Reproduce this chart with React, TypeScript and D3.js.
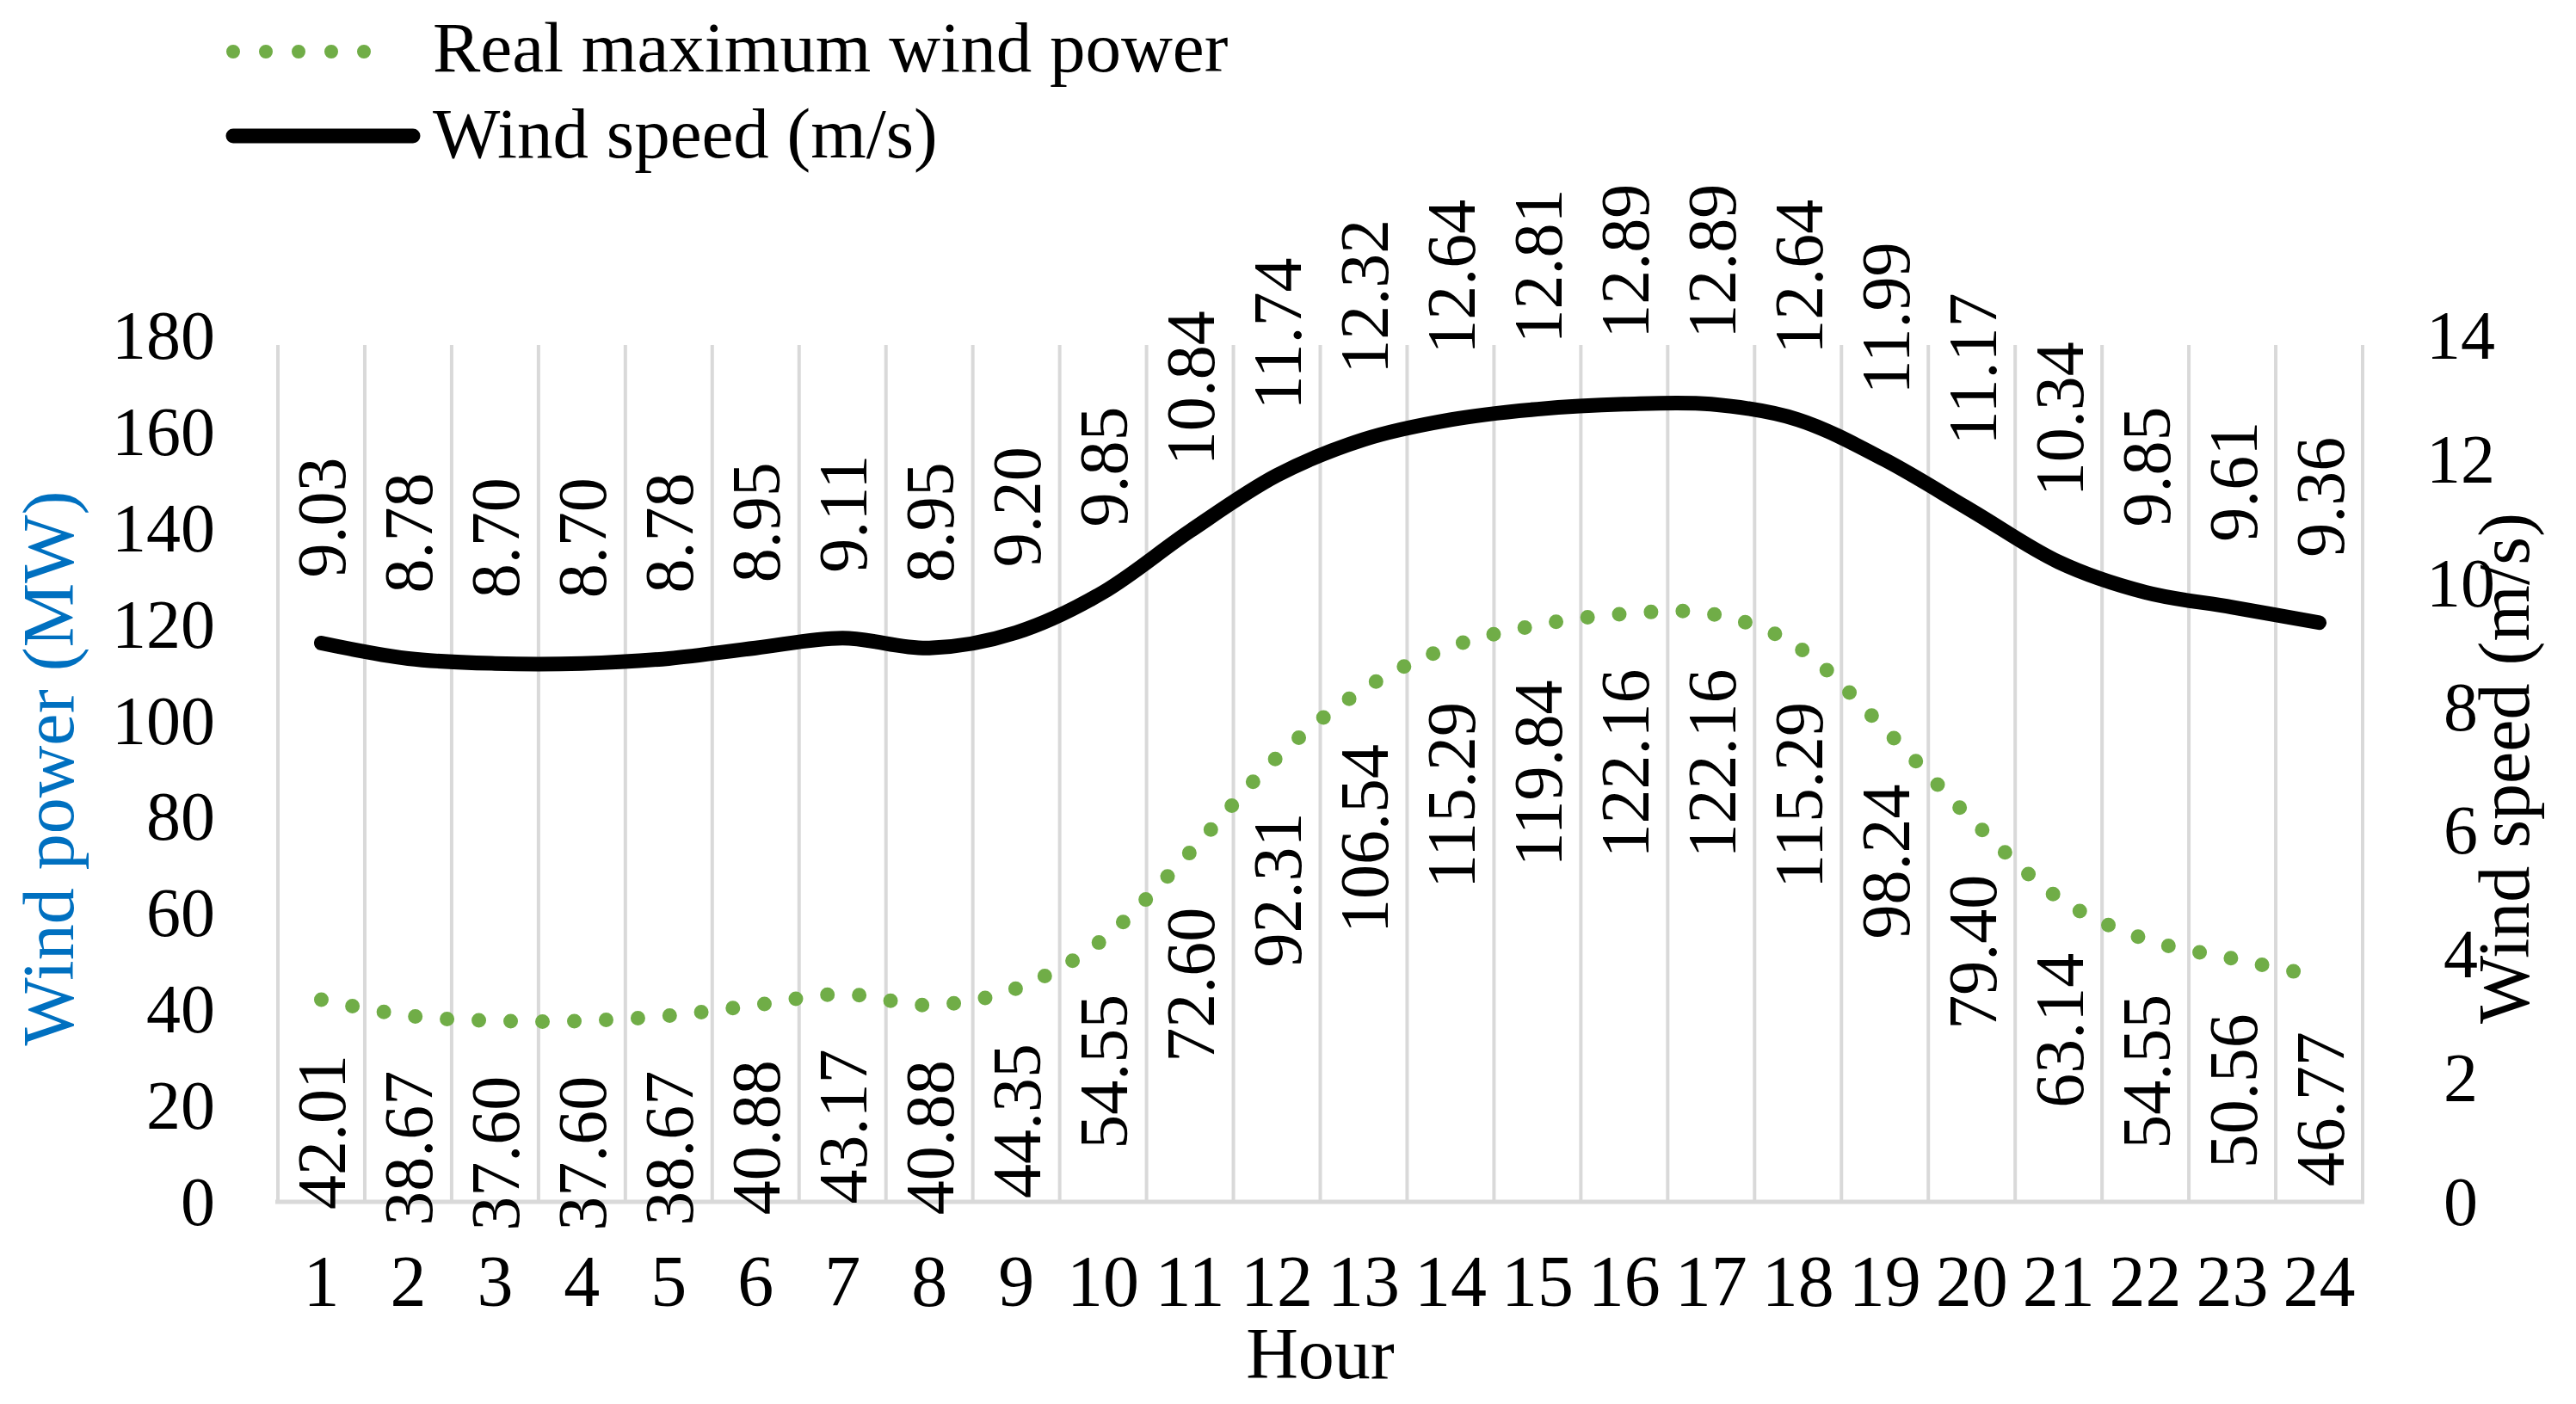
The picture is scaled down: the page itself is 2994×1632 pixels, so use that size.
import React from "react";
import * as d3 from "d3";

const hours = ["1", "2", "3", "4", "5", "6", "7", "8", "9", "10", "11", "12", "13", "14", "15", "16", "17", "18", "19", "20", "21", "22", "23", "24"];
const windPower = [42.01, 38.67, 37.6, 37.6, 38.67, 40.88, 43.17, 40.88, 44.35, 54.55, 72.6, 92.31, 106.54, 115.29, 119.84, 122.16, 122.16, 115.29, 98.24, 79.4, 63.14, 54.55, 50.56, 46.77];
const windSpeed = [9.03, 8.78, 8.7, 8.7, 8.78, 8.95, 9.11, 8.95, 9.2, 9.85, 10.84, 11.74, 12.32, 12.64, 12.81, 12.89, 12.89, 12.64, 11.99, 11.17, 10.34, 9.85, 9.61, 9.36];
const powerTicks = [0, 20, 40, 60, 80, 100, 120, 140, 160, 180];
const speedTicks = [0, 2, 4, 6, 8, 10, 12, 14];

const FONT = "'Liberation Serif', 'Times New Roman', serif";

export default function App() {
  const W = 2994;
  const H = 1632;
  const left = 323;
  const right = 2746;
  const gridTop = 401;
  const yTop = 390;
  const bottom = 1397;

  const x = d3.scaleBand<string>().domain(hours).range([left, right]).padding(0);
  const xc = (h: string) => (x(h) as number) + x.bandwidth() / 2;
  const yP = d3.scaleLinear().domain([0, 180]).range([bottom, yTop]);
  const yS = d3.scaleLinear().domain([0, 14]).range([bottom, yTop]);

  const powerLine = d3
    .line<number>()
    .x((_, i) => xc(hours[i]))
    .y((d) => yP(d))
    .curve(d3.curveCardinal.tension(0));
  const speedLine = d3
    .line<number>()
    .x((_, i) => xc(hours[i]))
    .y((d) => yS(d))
    .curve(d3.curveCardinal.tension(0));

  const edges = [...hours.map((h) => x(h) as number), x.range()[1]];
  const green = "#70AD47";
  const grid = "#D9D9D9";

  return (
    <svg
      width={W}
      height={H}
      viewBox={`0 0 ${W} ${H}`}
      style={{ position: "absolute", left: 0, top: 0, display: "block", background: "#fff" }}
      fontFamily={FONT}
    >
      <rect x={0} y={0} width={W} height={H} fill="#fff" />

      {/* vertical gridlines */}
      {edges.map((ex, i) => (
        <line key={"g" + i} x1={ex} x2={ex} y1={gridTop} y2={bottom} stroke={grid} strokeWidth={4} />
      ))}
      {/* bottom axis */}
      <line x1={left - 3} x2={right + 2} y1={bottom} y2={bottom} stroke={grid} strokeWidth={5} />

      {/* series */}
      <path
        d={powerLine(windPower) || ""}
        fill="none"
        stroke={green}
        strokeWidth={17}
        strokeLinecap="round"
        strokeDasharray="0 37"
      />
      <path
        d={speedLine(windSpeed) || ""}
        fill="none"
        stroke="#000"
        strokeWidth={17}
        strokeLinecap="round"
        strokeLinejoin="round"
      />

      {/* data labels: wind speed (above) */}
      {windSpeed.map((v, i) => (
        <text
          key={"ls" + i}
          transform={`translate(${xc(hours[i]) + 28},${yS(v) - 76}) rotate(-90)`}
          fontSize={80}
          textAnchor="start"
          fill="#000"
        >
          {v.toFixed(2)}
        </text>
      ))}
      {/* data labels: wind power (below) */}
      {windPower.map((v, i) => (
        <text
          key={"lp" + i}
          transform={`translate(${xc(hours[i]) + 28},${yP(v) + 64}) rotate(-90)`}
          fontSize={80}
          textAnchor="end"
          fill="#000"
        >
          {v.toFixed(2)}
        </text>
      ))}

      {/* left axis ticks */}
      {powerTicks.map((t) => (
        <text key={"pt" + t} x={250} y={yP(t) + 27} fontSize={80} textAnchor="end" fill="#000">
          {t}
        </text>
      ))}
      {/* right axis ticks */}
      {speedTicks.map((t) => (
        <text key={"st" + t} x={2860} y={yS(t) + 27} fontSize={80} textAnchor="middle" fill="#000">
          {t}
        </text>
      ))}
      {/* x axis ticks */}
      {hours.map((h) => (
        <text key={"xt" + h} x={xc(h)} y={1518} fontSize={84} textAnchor="middle" fill="#000">
          {h}
        </text>
      ))}

      {/* axis titles */}
      <text x={(left + right) / 2} y={1602} fontSize={84} textAnchor="middle" fill="#000">
        Hour
      </text>
      <text transform={`translate(85,893) rotate(-90)`} fontSize={84} textAnchor="middle" fill="#0070C0">
        Wind power (MW)
      </text>
      <text transform={`translate(2939,893) rotate(-90)`} fontSize={84} textAnchor="middle" fill="#000">
        Wind speed (m/s)
      </text>

      {/* legend */}
      <line x1={271} x2={461} y1={60} y2={60} stroke={green} strokeWidth={16} strokeLinecap="round" strokeDasharray="0 38" />
      <text x={503} y={83} fontSize={83} fill="#000">
        Real maximum wind power
      </text>
      <line x1={271} x2={480} y1={158} y2={158} stroke="#000" strokeWidth={17} strokeLinecap="round" />
      <text x={503} y={183} fontSize={83} fill="#000">
        Wind speed (m/s)
      </text>
    </svg>
  );
}
